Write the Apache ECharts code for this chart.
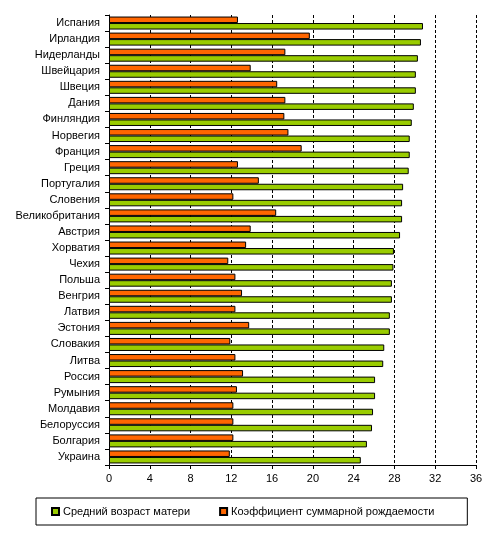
<!DOCTYPE html>
<html>
<head>
<meta charset="utf-8">
<style>
  html, body { margin: 0; padding: 0; background: #fff; }
  #chart { width: 499px; height: 533px; }
</style>
<script src="https://cdn.jsdelivr.net/npm/echarts@6/dist/echarts.min.js"></script>
</head>
<body>
<div id="chart"></div>
<script>
const countries = ['Испания', 'Ирландия', 'Нидерланды', 'Швейцария', 'Швеция', 'Дания', 'Финляндия',
  'Норвегия', 'Франция', 'Греция', 'Португалия', 'Словения', 'Великобритания', 'Австрия',
  'Хорватия', 'Чехия', 'Польша', 'Венгрия', 'Латвия', 'Эстония', 'Словакия',
  'Литва', 'Россия', 'Румыния', 'Молдавия', 'Белоруссия', 'Болгария', 'Украина']

// средний возраст матери, лет
const motherAge = [30.8, 30.6, 30.3, 30.1, 30.1, 29.9, 29.7,
  29.5, 29.5, 29.4, 28.85, 28.75, 28.75, 28.55,
  27.95, 27.9, 27.75, 27.75, 27.55, 27.55, 27.0,
  26.9, 26.1, 26.1, 25.9, 25.8, 25.3, 24.7]

// коэффициент суммарной рождаемости (x10)
const fertility = [12.65, 19.7, 17.3, 13.9, 16.5, 17.3, 17.2,
  17.6, 18.9, 12.65, 14.7, 12.2, 16.4, 13.9,
  13.45, 11.7, 12.4, 13.05, 12.4, 13.75, 11.9,
  12.4, 13.15, 12.55, 12.2, 12.2, 12.2, 11.85]

const xTicks = [0, 4, 8, 12, 16, 20, 24, 28, 32, 36]

const font = 'Liberation Sans, Arial, sans-serif'
const chart = echarts.init(document.getElementById('chart'))

chart.setOption({
  animation: false,
  textStyle: { fontFamily: font, fontSize: 11, color: '#000' },
  legend: {
    data: ['Средний возраст матери', 'Коэффициент суммарной рождаемости'],
    left: 36,
    top: 498,
    padding: [8, 33, 8, 15],
    itemGap: 29,
    itemWidth: 7,
    itemHeight: 7,
    icon: 'rect',
    borderColor: '#000',
    borderWidth: 1,
    textStyle: { fontFamily: font, fontSize: 11, color: '#000', padding: [0, 0, 0, -1] }
  },
  grid: {
    left: 109,
    right: 23,
    top: 15,
    bottom: 68,
    containLabel: false
  },
  xAxis: {
    type: 'value',
    min: xTicks[0],
    max: xTicks[xTicks.length - 1],
    interval: 4,
    axisLine: { show: true, lineStyle: { color: '#000', width: 1 } },
    axisTick: { show: true, length: 4, lineStyle: { color: '#000' } },
    axisLabel: { color: '#000', fontSize: 11, fontFamily: font, margin: 8 },
    splitLine: { show: true, lineStyle: { color: '#000', type: [3, 2], width: 1 } }
  },
  yAxis: {
    type: 'category',
    inverse: true,
    data: countries,
    axisLine: { show: true, lineStyle: { color: '#000', width: 1 } },
    axisTick: { show: true, length: 4, lineStyle: { color: '#000' } },
    axisLabel: { color: '#000', fontSize: 11, fontFamily: font, margin: 9 }
  },
  series: [
    {
      name: 'Коэффициент суммарной рождаемости',
      type: 'bar',
      data: fertility,
      barWidth: 6.5,
      barGap: '0%',
      itemStyle: { color: '#FF6600', borderColor: '#000', borderWidth: 1 }
    },
    {
      name: 'Средний возраст матери',
      type: 'bar',
      data: motherAge,
      barWidth: 6.5,
      barGap: '0%',
      itemStyle: { color: '#99CC00', borderColor: '#000', borderWidth: 1 }
    }
  ]
})
</script>
</body>
</html>
